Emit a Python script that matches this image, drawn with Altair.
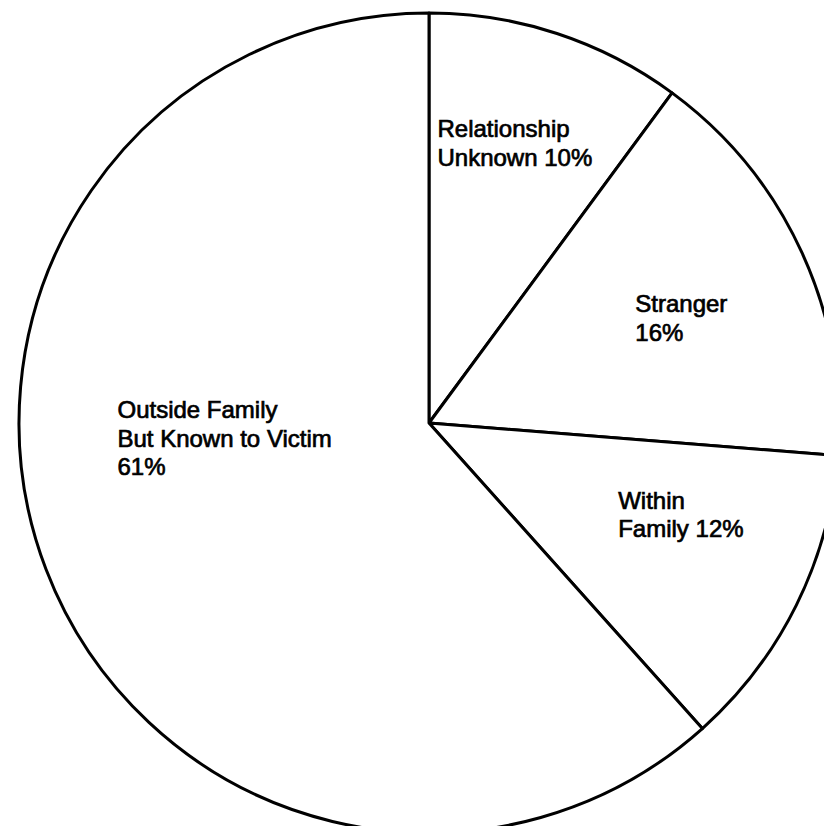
import altair as alt
import pandas as pd

# Data
categories = ["Relationship Unknown", "Stranger", "Within Family",
              "Outside Family But Known to Victim"]
values = [10, 16, 12, 61]
labels = ["Relationship\nUnknown 10%", "Stranger\n16%", "Within\nFamily 12%",
          "Outside Family\nBut Known to Victim\n61%"]
order = [0, 1, 2, 3]

df = pd.DataFrame({"category": categories, "value": values,
                   "label": labels, "idx": order})

CX, CY = 421, 415
R = 410

base = alt.Chart(df).encode(
    theta=alt.Theta("value:Q", stack=True,
                    scale=alt.Scale(zero=True, nice=False)),
    order=alt.Order("idx:Q", sort="ascending"),
    x=alt.value(CX),
    y=alt.value(CY),
)

pie = base.mark_arc(outerRadius=R, fill="white", stroke="black",
                    strokeWidth=3, strokeJoin="round")


def label_layer(cat, r, dx, dy):
    return base.transform_calculate(
        lab=f"datum.category == '{cat}' ? datum.label : ''"
    ).mark_text(
        radius=r, dx=dx, dy=dy, align="left", baseline="alphabetic",
        font="Liberation Sans", fontSize=24, lineHeight=28.5,
        lineBreak="\n", color="black", stroke="black", strokeWidth=0.7,
    ).encode(text="lab:N")


layers = [
    pie,
    label_layer(categories[0], 290, -82, -10),
    label_layer(categories[1], 240, -12, -11),
    label_layer(categories[2], 200, 10, -3),
    label_layer(categories[3], 250, -78, -94),
]

chart = alt.layer(*layers).properties(
    width=816, height=818, autosize="none", padding=0,
    background="white",
).configure_view(stroke=None)

chart.save("out.html", embed_options={"renderer": "svg", "actions": False})
